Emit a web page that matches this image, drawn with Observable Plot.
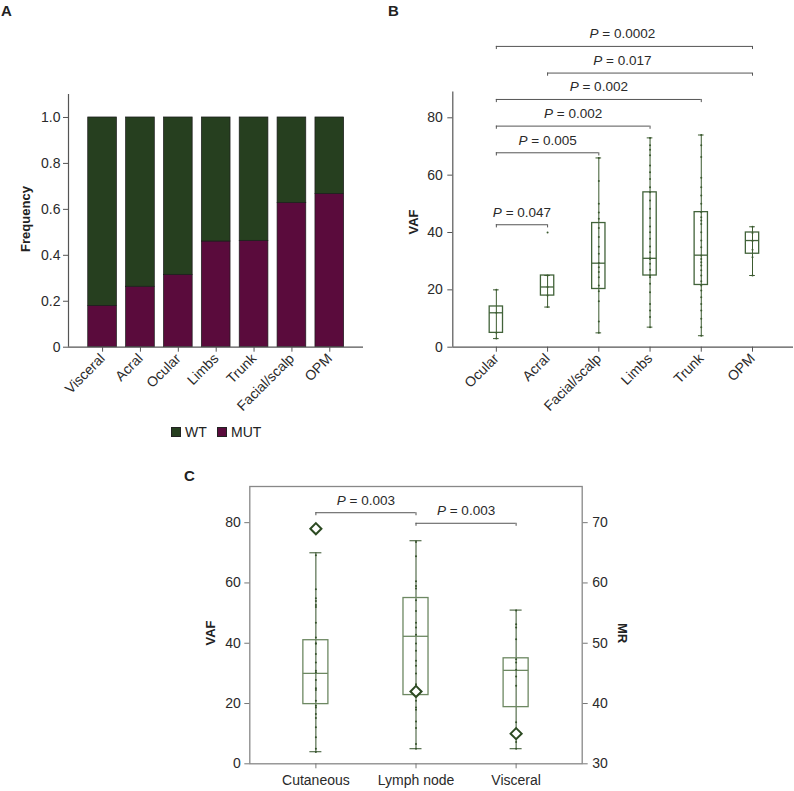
<!DOCTYPE html>
<html><head><meta charset="utf-8">
<script src="https://cdn.jsdelivr.net/npm/d3@7"></script>
<script src="https://cdn.jsdelivr.net/npm/@observablehq/plot@0.6"></script>
<style>
body{margin:0;background:#fff;}
#root{position:relative;width:794px;height:791px;font-family:"Liberation Sans",Arial,sans-serif;color:#222;overflow:hidden;background:#fff}
.abs{position:absolute}
.plab{position:absolute;font-weight:bold;font-size:15px;line-height:1}
.ytitle{position:absolute;font-weight:bold;font-size:13px;white-space:nowrap;line-height:1}
.leg{position:absolute;font-size:14px;line-height:1}
.sw{position:absolute;width:10px;height:10px;border:1px solid #222;box-sizing:border-box}
</style></head><body><div id="root"></div>
<script>
// ---------- Panel A data ----------
const catsA = ["Visceral","Acral","Ocular","Limbs","Trunk","Facial/scalp","OPM"];
const mutA = [0.18, 0.263, 0.315, 0.46, 0.463, 0.628, 0.667];
const wtA  = [0.82, 0.737, 0.685, 0.54, 0.537, 0.372, 0.333];
const statusA = ["WT","MUT"];
const ticksA = [0, 0.2, 0.4, 0.6, 0.8, 1.0];

// ---------- Panel B data ----------
const catsB = ["Ocular","Acral","Facial/scalp","Limbs","Trunk","OPM"];
const loB  = [3, 14, 5, 7, 4, 25];
const q1B  = [5, 18, 20.3, 25, 21.7, 32.6];
const medB = [12, 21, 29.3, 31, 32.1, 37.2];
const q3B  = [14.2, 25, 43.3, 54, 47.1, 40];
const hiB  = [20, 25, 66, 73, 74, 42];
const ptsOcular = [20, 12, 5, 3];
const ptsAcral  = [40, 25, 21, 18, 14];
const ptsFacial = [66, 58, 50, 47, 44.8, 41.6, 38.4, 35, 32.6, 29.4, 27.9, 26.2, 24.4, 21.5, 19.5, 16, 9, 5];
const ptsLimbs  = [73, 70.4, 68.9, 66.9, 63.4, 61, 58.7, 55.8, 54, 51.2, 48.3, 45.1, 42.1, 40.1, 37.8, 35.1, 33.1, 31, 30.8, 29.1, 27, 25, 24.4, 22.1, 19.2, 15.1, 12.8, 10.5, 7];
const ptsTrunk  = [74, 70.4, 66.3, 59.1, 55.8, 52.9, 50, 47.1, 45.3, 44.2, 43, 40.1, 37.2, 34.9, 32, 30.8, 29.6, 28.5, 26.8, 25, 23, 21.5, 19.8, 17.4, 15.1, 12.8, 9.9, 7, 4];
const ptsOPM    = [42, 39.8, 37, 34, 31.4, 25];
const ticksB = [0, 20, 40, 60, 80];
const brLabelsB = ["P = 0.047","P = 0.005","P = 0.002","P = 0.002","P = 0.017","P = 0.0002"];
const brFromB = ["Ocular","Ocular","Ocular","Ocular","Acral","Ocular"];
const brToB   = ["Acral","Facial/scalp","Limbs","Trunk","OPM","OPM"];
const brYB    = [42.7, 67.8, 77.1, 86.4, 95.6, 104.9];
const brTextAtB = [0.5, 1, 1.5, 2, 2.46, 2.46];

// ---------- Panel C data ----------
const catsC = ["Cutaneous","Lymph node","Visceral"];
const loC  = [4, 5, 5];
const q1C  = [19.8, 22.8, 18.8];
const medC = [30, 42.3, 31];
const q3C  = [41, 55, 35];
const hiC  = [70, 74, 51];
const mrC  = [69, 42, 35];
const ptsCut   = [69.2, 57.9, 54.9, 54, 52.7, 52, 46.8, 41.9, 40, 39.8, 36.4, 33.6, 30.9, 30.3, 27.8, 25.1, 24.5, 20.9, 19.3, 18.7, 16.5, 15.2, 12.1, 8.8, 5, 3.9];
const ptsLymph = [73.6, 68.9, 60.6, 59, 58.2, 54.3, 50.7, 46.8, 45.2, 42.8, 39.9, 37.5, 34.2, 32.5, 30, 26.4, 24.2, 20.9, 18.7, 17.9, 14, 11.9, 6.6, 5];
const ptsVisc  = [50.9, 46.3, 45.2, 41.3, 34.7, 33.6, 31.2, 29, 25.9, 13.8, 10.8, 7.2, 5];
const ticksC = [0, 20, 40, 60, 80];
const ticksMR = [30, 40, 50, 60, 70];
const brLabelsC = ["P = 0.003","P = 0.003"];
const brFromC = ["Cutaneous","Lymph node"];
const brToC   = ["Lymph node","Visceral"];
const brYC    = [83.3, 79.8];

// ---------- styles ----------
const WT_COL = "#263f1f", MUT_COL = "#5a0b3c";
const AXIS = "#555", TXT = "#2a2a2a";
const FONT = "'Liberation Sans', Arial, sans-serif";
const root = document.getElementById("root");

function place(el, left, top) {
  el.style.position = "absolute"; el.style.left = left + "px"; el.style.top = top + "px";
  root.appendChild(el); return el;
}
function div(cls, text, css) {
  const d = document.createElement("div"); d.className = cls; d.textContent = text;
  Object.assign(d.style, css || {}); root.appendChild(d); return d;
}
function italicP(fig) {
  fig.querySelectorAll("text").forEach(t => {
    const s = t.textContent;
    if (/^P = /.test(s) && t.children.length === 0) {
      t.textContent = "";
      t.setAttribute("xml:space", "preserve");
      const ns = "http://www.w3.org/2000/svg";
      const a = document.createElementNS(ns, "tspan"); a.setAttribute("font-style", "italic"); a.textContent = "P";
      const b = document.createElementNS(ns, "tspan"); b.textContent = s.slice(1);
      t.appendChild(a); t.appendChild(b);
    }
  });
}
const baseStyle = {fontFamily: FONT, fontSize: "14px", color: TXT, background: "transparent", overflow: "visible"};

// ---------- Panel A ----------
const rowsA = catsA.flatMap((c, i) => [
  {i, status: "MUT", v: mutA[i]},
  {i, status: "WT", v: wtA[i]}
]);
const hwA = 0.379;
const xA0 = -0.9, xA1 = 6.89;
const figA = Plot.plot({
  width: 390, height: 420, marginLeft: 68, marginRight: 27, marginTop: 94, marginBottom: 73.3,
  style: baseStyle,
  x: {domain: [xA0, xA1]},
  y: {domain: [0, 1.1]},
  color: {domain: statusA, range: [WT_COL, MUT_COL]},
  marks: [
    Plot.rectY(rowsA, {x1: d => d.i - hwA, x2: d => d.i + hwA, y: "v", fill: "status", stroke: "#1b1b1b", strokeWidth: 0.7}),
    Plot.ruleX([xA0], {stroke: AXIS, strokeWidth: 1.2}),
    Plot.ruleY([0], {stroke: AXIS, strokeWidth: 1.2}),
    Plot.axisY({ticks: ticksA, tickFormat: d => d === 0 ? "0" : d.toFixed(1), tickSize: 5, tickPadding: 3, label: null, stroke: AXIS}),
    Plot.axisX({ticks: catsA.map((_, i) => i), tickFormat: i => catsA[i], tickRotate: -45, tickSize: 5, tickPadding: 4, label: null, stroke: AXIS})
  ]
});
place(figA, 0, 0);

// legend A
const sw1 = div("sw", "", {left: "171px", top: "427px", background: WT_COL});
div("leg", "WT", {left: "185px", top: "425px"});
const sw2 = div("sw", "", {left: "217px", top: "427px", background: MUT_COL});
div("leg", "MUT", {left: "231px", top: "425px"});

// ---------- Box helper ----------
function boxMarks(cats, lo, q1, med, q3, hi, pts, hw, cw, cols) {
  const stats = cats.map((c, i) => ({i, lo: lo[i], q1: q1[i], med: med[i], q3: q3[i], hi: hi[i]}));
  const caps = stats.flatMap(s => [{i: s.i, y: s.lo}, {i: s.i, y: s.hi}]);
  const dots = pts.flatMap((arr, i) => arr.map(v => ({i, v})));
  return [
    Plot.ruleX(stats, {x: "i", y1: "lo", y2: "hi", stroke: cols.whisk, strokeWidth: 1}),
    Plot.ruleY(caps, {y: "y", x1: d => d.i - cw, x2: d => d.i + cw, stroke: cols.whisk, strokeWidth: 1}),
    Plot.rect(stats, {x1: d => d.i - hw, x2: d => d.i + hw, y1: "q1", y2: "q3", fill: "none", stroke: cols.box, strokeWidth: cols.bw}),
    Plot.ruleY(stats, {y: "med", x1: d => d.i - hw, x2: d => d.i + hw, stroke: cols.box, strokeWidth: cols.bw}),
    Plot.dot(dots, {x: "i", y: "v", r: 1, fill: cols.dot, stroke: null})
  ];
}
function bracketMarks(cats, labels, from, to, ys, textAt, tickLen) {
  const br = labels.map((l, k) => ({label: l, a: cats.indexOf(from[k]), b: cats.indexOf(to[k]), y: ys[k], tx: textAt[k]}));
  const ends = br.flatMap(d => [{x: d.a, y: d.y}, {x: d.b, y: d.y}]);
  return [
    Plot.ruleY(br, {y: "y", x1: "a", x2: "b", stroke: "#555", strokeWidth: 1}),
    Plot.ruleX(ends, {x: "x", y1: "y", y2: d => d.y - tickLen, stroke: "#555", strokeWidth: 1}),
    Plot.text(br, {x: "tx", y: "y", text: "label", dy: -12.5, fontSize: 13.5, fill: TXT})
  ];
}

// ---------- Panel B ----------
const xB0 = -0.85, xB1 = 5.8;
const figB = Plot.plot({
  width: 404, height: 420, marginLeft: 62.3, marginRight: 1, marginTop: 91.5, marginBottom: 73.3,
  style: baseStyle,
  x: {domain: [xB0, xB1]},
  y: {domain: [0, 89]},
  marks: [
    ...boxMarks(catsB, loB, q1B, medB, q3B, hiB, [ptsOcular, ptsAcral, ptsFacial, ptsLimbs, ptsTrunk, ptsOPM], 0.13, 0.055,
      {whisk: "#3b5a2f", box: "#42633a", dot: "#3b5a2f", bw: 1.3}),
    ...bracketMarks(catsB, brLabelsB, brFromB, brToB, brYB, brTextAtB, 1.1),
    Plot.ruleX([xB0], {stroke: AXIS, strokeWidth: 1.2}),
    Plot.ruleY([0], {stroke: AXIS, strokeWidth: 1.2}),
    Plot.axisY({ticks: ticksB, tickSize: 5, tickPadding: 5, label: null, stroke: AXIS}),
    Plot.axisX({ticks: catsB.map((_, i) => i), tickFormat: i => catsB[i], tickRotate: -45, tickSize: 5, tickPadding: 4, label: null, stroke: AXIS})
  ]
});
italicP(figB);
place(figB, 390, 0);

// ---------- Panel C ----------
const xC0 = -0.66, xC1 = 2.66;
const figC = Plot.plot({
  width: 460, height: 331, marginLeft: 69.3, marginRight: 58.3, marginTop: 26, marginBottom: 27.7,
  style: baseStyle,
  x: {domain: [xC0, xC1]},
  y: {domain: [0, 92]},
  marks: [
    Plot.frame({stroke: "#888", strokeWidth: 1.3}),
    ...boxMarks(catsC, loC, q1C, medC, q3C, hiC, [ptsCut, ptsLymph, ptsVisc], 0.125, 0.06,
      {whisk: "#34512a", box: "#6d8862", dot: "#34512a", bw: 1.3}),
    Plot.dot(catsC.map((c, i) => ({i, mr: mrC[i]})), {x: "i", y: d => (d.mr - 30) * 2, symbol: "diamond2", r: 5, fill: "white", stroke: "#2c4a22", strokeWidth: 2}),
    ...bracketMarks(catsC, brLabelsC, brFromC, brToC, brYC, [0.5, 1.5], 1),
    Plot.axisY({ticks: ticksC, tickSize: 5, tickPadding: 4, label: null, stroke: "#777"}),
    Plot.axisY({anchor: "right", ticks: ticksMR.map(m => (m - 30) * 2), tickFormat: d => String(30 + d / 2), tickSize: 5, tickPadding: 5, label: null, stroke: "#777"}),
    Plot.axisX({ticks: catsC.map((_, i) => i), tickFormat: i => catsC[i], tickSize: 5, tickPadding: 6, label: null, stroke: "#777"})
  ]
});
italicP(figC);
place(figC, 180, 460);

// ---------- titles ----------
div("plab", "A", {left: "1px", top: "3px"});
div("plab", "B", {left: "388px", top: "3px"});
div("plab", "C", {left: "184px", top: "468px"});
function ytitle(text, cx, cy, rot) {
  const d = div("ytitle", text, {left: cx + "px", top: cy + "px", transform: `translate(-50%,-50%) rotate(${rot}deg)`});
  return d;
}
ytitle("Frequency", 25, 219, -90);
ytitle("VAF", 413, 222, -90);
ytitle("VAF", 210, 633, -90);
ytitle("MR", 622, 633, 90);
</script></body></html>
